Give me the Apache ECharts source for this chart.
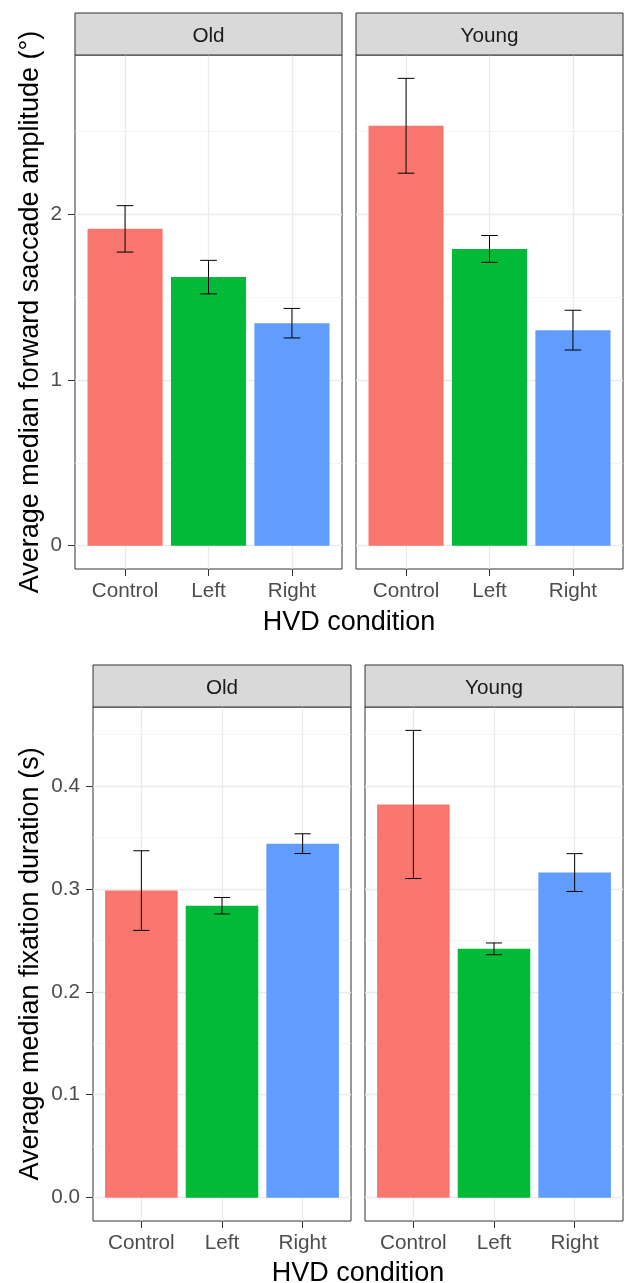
<!DOCTYPE html>
<html>
<head>
<meta charset="utf-8">
<script src="https://cdn.jsdelivr.net/npm/echarts@6/dist/echarts.min.js"></script>
<style>
  html, body { margin: 0; padding: 0; background: #ffffff; }
  #chart { width: 626px; height: 1283px; }
</style>
</head>
<body>
<div id="chart"></div>
<script>
// Conditions, facets and fill colours
const conditions = ['Control', 'Left', 'Right'];
const groups = ['Old', 'Young'];
const barColors = ['#F8766D', '#00BA38', '#619CFF'];

// Forward saccade amplitude (deg): mean and standard error per condition
const saccadeOldMean = [1.911, 1.620, 1.342];
const saccadeOldSE = [0.140, 0.101, 0.089];
const saccadeYoungMean = [2.533, 1.790, 1.300];
const saccadeYoungSE = [0.286, 0.081, 0.120];
const saccadeTicks = [0, 1, 2];
const saccadeMinorTicks = [0.5, 1.5, 2.5];

// Fixation duration (s): mean and standard error per condition
const fixationOldMean = [0.2984, 0.2837, 0.3440];
const fixationOldSE = [0.0387, 0.0080, 0.0096];
const fixationYoungMean = [0.3821, 0.2418, 0.3159];
const fixationYoungSE = [0.0720, 0.0057, 0.0184];
const fixationTicks = [0, 0.1, 0.2, 0.3, 0.4];
const fixationMinorTicks = [0.05, 0.15, 0.25, 0.35, 0.45];

const FONT = '"Liberation Sans", Arial, Helvetica, sans-serif';
const TICK_SIZE = 20.7;
const TITLE_SIZE = 27;
const STRIP_H = 42;
const TEXT_NUDGE = 2;

// y limits with a 5% expansion on both sides, shared by the facets of a plot
function expandedRange(meansList, seList) {
  let lo = 0, hi = 0;
  meansList.forEach((means, i) => {
    means.forEach((m, k) => {
      lo = Math.min(lo, m - seList[i][k]);
      hi = Math.max(hi, m + seList[i][k]);
    });
  });
  const pad = (hi - lo) * 0.05;
  return [lo - pad, hi + pad];
}

const saccadeRange = expandedRange([saccadeOldMean, saccadeYoungMean], [saccadeOldSE, saccadeYoungSE]);
const fixationRange = expandedRange([fixationOldMean, fixationYoungMean], [fixationOldSE, fixationYoungSE]);

const panels = [
  { left: 75, top: 55, width: 267, height: 514, group: groups[0], mean: saccadeOldMean, se: saccadeOldSE,
    range: saccadeRange, ticks: saccadeTicks, minor: saccadeMinorTicks, digits: 0, first: true },
  { left: 356, top: 55, width: 267, height: 514, group: groups[1], mean: saccadeYoungMean, se: saccadeYoungSE,
    range: saccadeRange, ticks: saccadeTicks, minor: saccadeMinorTicks, digits: 0, first: false },
  { left: 93, top: 707, width: 258, height: 514, group: groups[0], mean: fixationOldMean, se: fixationOldSE,
    range: fixationRange, ticks: fixationTicks, minor: fixationMinorTicks, digits: 1, first: true },
  { left: 365, top: 707, width: 258, height: 514, group: groups[1], mean: fixationYoungMean, se: fixationYoungSE,
    range: fixationRange, ticks: fixationTicks, minor: fixationMinorTicks, digits: 1, first: false }
];

const catPositions = conditions.map((c, i) => i + 1);

const grid = [], xAxis = [], yAxis = [], series = [], graphic = [];

panels.forEach((p, i) => {
  grid.push({
    left: p.left, top: p.top, width: p.width, height: p.height,
    show: true, backgroundColor: '#ffffff', borderColor: '#333333', borderWidth: 1
  });

  xAxis.push({
    gridIndex: i, type: 'value', min: 0.4, max: 3.6, position: 'bottom',
    axisLine: { show: false, onZero: false },
    axisTick: { show: true, customValues: catPositions, length: 7, lineStyle: { color: '#333333', width: 1 } },
    axisLabel: {
      customValues: catPositions, margin: 10 + TEXT_NUDGE, fontSize: TICK_SIZE, color: '#4D4D4D', fontFamily: FONT,
      formatter: v => conditions[Math.round(v) - 1]
    },
    splitLine: { show: true, lineStyle: { color: '#EBEBEB', width: 1.3 } }
  });

  // major y axis (ticks, labels and major grid)
  const majorIdx = yAxis.length;
  yAxis.push({
    gridIndex: i, type: 'value', min: p.range[0], max: p.range[1], position: 'left',
    axisLine: { show: false, onZero: false },
    axisTick: { show: p.first, customValues: p.ticks, length: 7, lineStyle: { color: '#333333', width: 1 } },
    axisLabel: {
      show: p.first, customValues: p.ticks, margin: 13, fontSize: TICK_SIZE, color: '#4D4D4D', fontFamily: FONT,
      padding: [TEXT_NUDGE * 2, 0, 0, 0],
      formatter: v => v.toFixed(p.digits)
    },
    splitLine: { show: true, lineStyle: { color: '#EBEBEB', width: 1.3 } }
  });
  // minor y grid
  yAxis.push({
    gridIndex: i, type: 'value', min: p.range[0], max: p.range[1], position: 'left',
    axisLine: { show: false, onZero: false },
    axisTick: { show: false, customValues: p.minor },
    axisLabel: { show: false, customValues: p.minor },
    splitLine: { show: true, lineStyle: { color: '#F2F2F2', width: 0.8 } }
  });

  series.push({
    type: 'bar', xAxisIndex: i, yAxisIndex: majorIdx, barWidth: '90%', silent: true, animation: false,
    data: p.mean.map((m, k) => ({ value: [catPositions[k], m], itemStyle: { color: barColors[k] } }))
  });

  series.push({
    type: 'custom', xAxisIndex: i, yAxisIndex: majorIdx, silent: true, animation: false, z: 5,
    encode: { x: 0, y: [1, 2] },
    data: p.mean.map((m, k) => [catPositions[k], m - p.se[k], m + p.se[k]]),
    renderItem: (params, api) => {
      const x = api.value(0);
      const top = api.coord([x, api.value(2)]);
      const bot = api.coord([x, api.value(1)]);
      const half = api.size([0.1, 0])[0];
      const style = { stroke: '#000000', lineWidth: 1, fill: null };
      return {
        type: 'group',
        children: [
          { type: 'line', shape: { x1: top[0], y1: top[1], x2: bot[0], y2: bot[1] }, style },
          { type: 'line', shape: { x1: top[0] - half, y1: top[1], x2: top[0] + half, y2: top[1] }, style },
          { type: 'line', shape: { x1: bot[0] - half, y1: bot[1], x2: bot[0] + half, y2: bot[1] }, style }
        ]
      };
    }
  });

  // facet strip
  graphic.push({
    type: 'rect', silent: true, z: 10,
    shape: { x: p.left, y: p.top - STRIP_H, width: p.width, height: STRIP_H },
    style: { fill: '#D9D9D9', stroke: '#333333', lineWidth: 1 }
  });
  graphic.push({
    type: 'text', silent: true, z: 11,
    x: p.left + p.width / 2, y: p.top - STRIP_H / 2 + TEXT_NUDGE,
    style: { text: p.group, fontSize: TICK_SIZE, fontFamily: FONT, fill: '#1A1A1A', align: 'center', verticalAlign: 'middle' }
  });
});

// axis titles
const titles = [
  { text: 'HVD condition', x: (75 + 623) / 2, y: 621 + TEXT_NUDGE, rot: 0 },
  { text: 'Average median forward saccade amplitude (°)', x: 31, y: (55 + 569) / 2, rot: Math.PI / 2 },
  { text: 'HVD condition', x: (93 + 623) / 2, y: 1272 + TEXT_NUDGE, rot: 0 },
  { text: 'Average median fixation duration (s)', x: 31, y: (707 + 1221) / 2, rot: Math.PI / 2 }
];
titles.forEach(t => {
  graphic.push({
    type: 'text', silent: true, z: 11, x: t.x, y: t.y, rotation: t.rot,
    style: { text: t.text, fontSize: TITLE_SIZE, fontFamily: FONT, fill: '#000000', align: 'center', verticalAlign: 'middle' }
  });
});

const chart = echarts.init(document.getElementById('chart'), null, { renderer: 'canvas' });
chart.setOption({
  backgroundColor: '#ffffff',
  animation: false,
  grid, xAxis, yAxis, series, graphic
});
</script>
</body>
</html>
